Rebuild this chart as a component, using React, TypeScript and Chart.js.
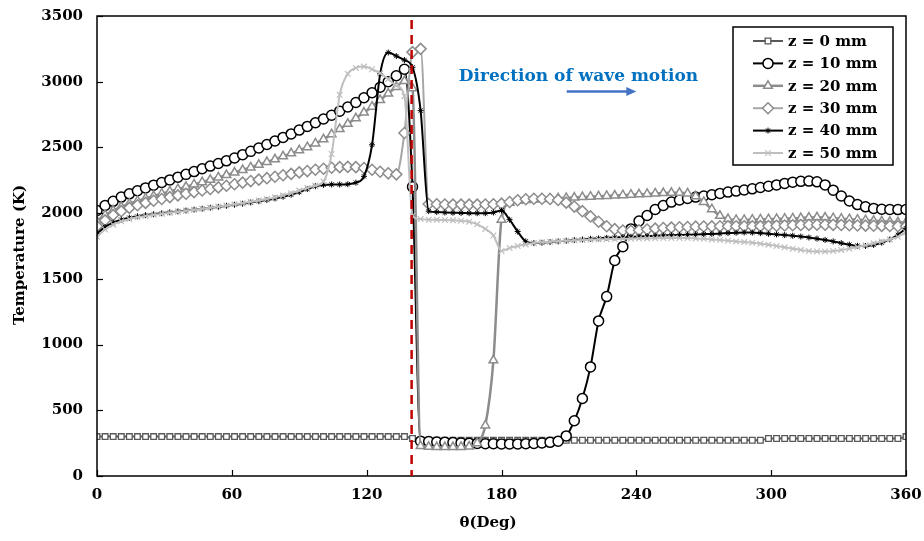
import React, { useEffect, useRef } from "react";
import { Chart, registerables } from "chart.js";

Chart.register(...registerables);

// Angle (deg) of each sample
const THETA = [
  0, 3.6, 7.2, 10.8, 14.4, 18, 21.6, 25.2, 28.8, 32.4,
  36, 39.6, 43.2, 46.8, 50.4, 54, 57.6, 61.2, 64.8, 68.4,
  72, 75.6, 79.2, 82.8, 86.4, 90, 93.6, 97.2, 100.8, 104.4,
  108, 111.6, 115.2, 118.8, 122.4, 126, 129.6, 133.2, 136.8, 140.4,
  144, 147.6, 151.2, 154.8, 158.4, 162, 165.6, 169.2, 172.8, 176.4,
  180, 183.6, 187.2, 190.8, 194.4, 198, 201.6, 205.2, 208.8, 212.4,
  216, 219.6, 223.2, 226.8, 230.4, 234, 237.6, 241.2, 244.8, 248.4,
  252, 255.6, 259.2, 262.8, 266.4, 270, 273.6, 277.2, 280.8, 284.4,
  288, 291.6, 295.2, 298.8, 302.4, 306, 309.6, 313.2, 316.8, 320.4,
  324, 327.6, 331.2, 334.8, 338.4, 342, 345.6, 349.2, 352.8, 356.4, 360,
];

const T_Z0 = [
  300, 300, 300, 300, 300, 300, 300, 300, 300, 300,
  300, 300, 300, 300, 300, 300, 300, 300, 300, 300,
  300, 300, 300, 300, 300, 300, 300, 300, 300, 300,
  300, 300, 300, 300, 300, 300, 300, 300, 300, 285,
  272, 272, 272, 272, 272, 272, 272, 272, 272, 272,
  272, 272, 272, 272, 272, 272, 272, 272, 272, 272,
  272, 272, 272, 272, 272, 272, 272, 272, 272, 272,
  272, 272, 272, 272, 272, 272, 272, 272, 272, 272,
  272, 272, 272, 285, 285, 285, 285, 285, 285, 285,
  285, 285, 285, 285, 285, 285, 285, 285, 285, 285, 300,
];

const T_Z10 = [
  2020, 2058, 2090, 2122, 2147, 2170, 2192, 2213, 2233, 2253,
  2274, 2295, 2316, 2338, 2358, 2378, 2398, 2420, 2445, 2470,
  2496, 2522, 2549, 2576, 2603, 2632, 2660, 2688, 2716, 2745,
  2776, 2808, 2842, 2878, 2916, 2958, 3000, 3045, 3095, 2200,
  265, 262, 258, 256, 254, 252, 250, 248, 246, 245,
  244, 244, 244, 245, 248, 252, 256, 265, 305, 420,
  590, 830, 1180, 1365, 1640, 1745, 1880, 1940, 1982, 2028,
  2058, 2084, 2100, 2112, 2122, 2130, 2140, 2150, 2160, 2168,
  2176, 2185, 2195, 2205, 2215, 2226, 2236, 2242, 2244, 2238,
  2215, 2175, 2130, 2092, 2065, 2048, 2036, 2030, 2028, 2027, 2028,
];

const T_Z20 = [
  1940, 1985, 2020, 2048, 2072, 2093, 2112, 2130, 2148, 2165,
  2182, 2200, 2218, 2236, 2254, 2272, 2290, 2309, 2328, 2348,
  2368, 2389, 2410, 2432, 2455, 2478, 2502, 2530, 2562, 2600,
  2640, 2680, 2722, 2765, 2810, 2860, 2910, 2960, 3005, 2950,
  228, 222, 220, 220, 220, 221, 224, 250, 385, 880,
  1950, 2080, 2095, 2100, 2104, 2107, 2110, 2113, 2116, 2119,
  2122, 2125, 2128, 2131, 2134, 2137, 2140, 2143, 2146, 2150,
  2153, 2155, 2155, 2150, 2128, 2085, 2030, 1980, 1955, 1948,
  1948, 1950, 1952, 1954, 1956, 1958, 1960, 1963, 1966, 1968,
  1966, 1962, 1958, 1954, 1950, 1946, 1942, 1938, 1934, 1930, 1928,
];

const T_Z30 = [
  1900, 1945, 1985, 2015, 2040, 2060, 2078, 2094, 2108, 2122,
  2135, 2148, 2160, 2172, 2184, 2196, 2208, 2220, 2232, 2244,
  2255, 2266, 2277, 2288, 2299, 2310, 2320, 2330, 2338, 2345,
  2350, 2352, 2350, 2343, 2330, 2315, 2303, 2295, 2610, 3225,
  3250, 2070, 2068, 2066, 2065, 2065, 2065, 2065, 2066, 2068,
  2072, 2085, 2098, 2106, 2110, 2110, 2108, 2100, 2080, 2050,
  2015, 1975, 1935, 1900, 1878, 1868, 1866, 1870, 1876, 1882,
  1887, 1890, 1893, 1895, 1897, 1898, 1899, 1900, 1900, 1900,
  1900, 1900, 1901, 1902, 1904, 1906, 1908, 1910, 1911, 1912,
  1912, 1911, 1910, 1908, 1906, 1905, 1904, 1903, 1902, 1900, 1900,
];

const T_Z40 = [
  1845, 1895, 1928, 1950, 1965, 1976, 1985, 1992, 1999, 2006,
  2013, 2020, 2027, 2034, 2041, 2048, 2056, 2064, 2072, 2081,
  2090, 2100, 2112, 2125, 2140, 2160, 2183, 2205, 2215, 2218,
  2218, 2220, 2232, 2280, 2520, 3060, 3222, 3195, 3165, 3110,
  2780, 2015, 2008, 2005, 2003, 2002, 2000, 2000, 2000, 2005,
  2020, 1950, 1860, 1785, 1772, 1775, 1780, 1785, 1790, 1795,
  1800, 1805, 1808, 1812, 1815, 1818, 1820, 1822, 1825, 1828,
  1830, 1832, 1834, 1836, 1838, 1840, 1842, 1845, 1848, 1851,
  1853, 1852, 1848, 1843, 1838, 1833, 1828, 1822, 1815, 1806,
  1796, 1785, 1772, 1760, 1752, 1750, 1758, 1775, 1800, 1835, 1885,
];

const T_Z50 = [
  1820, 1875, 1912, 1938, 1955, 1968, 1978, 1987, 1995, 2003,
  2010, 2018, 2026, 2034, 2042, 2050, 2058, 2067, 2076, 2086,
  2096, 2107, 2120, 2135, 2152, 2172, 2192, 2210, 2240, 2450,
  2900, 3060, 3105, 3115, 3095, 3065, 3020, 2970, 2890, 1980,
  1955, 1950, 1950, 1948, 1945, 1942, 1935, 1915, 1880, 1830,
  1712, 1735, 1750, 1762, 1772, 1778, 1783, 1787, 1790, 1793,
  1796, 1798, 1800, 1802, 1803, 1805, 1806, 1807, 1808, 1809,
  1810, 1810, 1810, 1810, 1808, 1805, 1800, 1795, 1790, 1785,
  1780, 1775, 1768, 1760, 1750, 1740, 1730, 1720, 1712, 1708,
  1708, 1712, 1720, 1730, 1742, 1755, 1770, 1785, 1800, 1820, 1855,
];

const SERIES_LABELS = ["z = 0 mm", "z = 10 mm", "z = 20 mm", "z = 30 mm", "z = 40 mm", "z = 50 mm"];
const SERIES_VALUES = [T_Z0, T_Z10, T_Z20, T_Z30, T_Z40, T_Z50];

const X_MIN = 0;
const X_MAX = 360;
const X_STEP = 60;
const Y_MIN = 0;
const Y_MAX = 3500;
const Y_STEP = 500;
const WAVE_FRONT_DEG = 140;
const ANNOTATION_TEXT = "Direction of wave motion";
const X_TITLE = "θ(Deg)";
const Y_TITLE = "Temperature (K)";

const FONT = "'DejaVu Serif', serif";

type Style = {
  line: string;
  lineWidth: number;
  marker: string;
  radius: number;
  markerBorder: string;
  markerFill: string;
  markerWidth: number;
};

const STYLES: Style[] = [
  { line: "#595959", lineWidth: 2, marker: "rect", radius: 4, markerBorder: "#595959", markerFill: "#ffffff", markerWidth: 1.3 },
  { line: "#000000", lineWidth: 2, marker: "circle", radius: 5, markerBorder: "#000000", markerFill: "#ffffff", markerWidth: 1.5 },
  { line: "#8c8c8c", lineWidth: 2.5, marker: "triangle", radius: 5, markerBorder: "#8c8c8c", markerFill: "#ffffff", markerWidth: 1.5 },
  { line: "#a6a6a6", lineWidth: 2, marker: "rectRot", radius: 5.5, markerBorder: "#8c8c8c", markerFill: "#ffffff", markerWidth: 1.5 },
  { line: "#000000", lineWidth: 2, marker: "star", radius: 3, markerBorder: "#000000", markerFill: "#000000", markerWidth: 1 },
  { line: "#bfbfbf", lineWidth: 2, marker: "crossRot", radius: 4, markerBorder: "#bfbfbf", markerFill: "#bfbfbf", markerWidth: 1.2 },
];

function drawMarker(ctx: CanvasRenderingContext2D, st: Style, x: number, y: number) {
  const r = st.radius;
  ctx.save();
  ctx.lineWidth = st.markerWidth;
  ctx.strokeStyle = st.markerBorder;
  ctx.fillStyle = st.markerFill;
  ctx.beginPath();
  if (st.marker === "rect") {
    const s = r * Math.SQRT1_2 * 2;
    ctx.rect(x - s / 2, y - s / 2, s, s);
    ctx.fill();
    ctx.stroke();
  } else if (st.marker === "circle") {
    ctx.arc(x, y, r, 0, Math.PI * 2);
    ctx.fill();
    ctx.stroke();
  } else if (st.marker === "triangle") {
    ctx.moveTo(x, y - r);
    ctx.lineTo(x + r * 0.866, y + r * 0.5);
    ctx.lineTo(x - r * 0.866, y + r * 0.5);
    ctx.closePath();
    ctx.fill();
    ctx.stroke();
  } else if (st.marker === "rectRot") {
    ctx.moveTo(x, y - r);
    ctx.lineTo(x + r, y);
    ctx.lineTo(x, y + r);
    ctx.lineTo(x - r, y);
    ctx.closePath();
    ctx.fill();
    ctx.stroke();
  } else if (st.marker === "star") {
    for (let k = 0; k < 4; k++) {
      const a = (k * Math.PI) / 4;
      ctx.moveTo(x - Math.cos(a) * r, y - Math.sin(a) * r);
      ctx.lineTo(x + Math.cos(a) * r, y + Math.sin(a) * r);
    }
    ctx.stroke();
  } else if (st.marker === "crossRot") {
    ctx.moveTo(x - r * 0.7, y - r * 0.7);
    ctx.lineTo(x + r * 0.7, y + r * 0.7);
    ctx.moveTo(x + r * 0.7, y - r * 0.7);
    ctx.lineTo(x - r * 0.7, y + r * 0.7);
    ctx.stroke();
  }
  ctx.restore();
}

const overlayPlugin = {
  id: "overlay",
  afterDraw(chart: any) {
    const { ctx, chartArea: ca, scales } = chart;
    const xs = scales.x;
    const ys = scales.y;
    ctx.save();

    // inner tick marks
    ctx.strokeStyle = "#000";
    ctx.lineWidth = 1.2;
    for (let v = Y_MIN; v <= Y_MAX; v += Y_STEP) {
      const py = Math.round(ys.getPixelForValue(v)) + 0.5;
      ctx.beginPath();
      ctx.moveTo(ca.left, py);
      ctx.lineTo(ca.left + 6, py);
      ctx.stroke();
    }
    for (let v = X_MIN; v <= X_MAX; v += X_STEP) {
      const px = Math.round(xs.getPixelForValue(v)) + 0.5;
      ctx.beginPath();
      ctx.moveTo(px, ca.bottom);
      ctx.lineTo(px, ca.bottom - 6);
      ctx.stroke();
    }

    // plot frame
    ctx.lineWidth = 1.5;
    ctx.strokeStyle = "#000";
    ctx.strokeRect(ca.left, ca.top, ca.right - ca.left, ca.bottom - ca.top);

    // wave front dashed line
    const wx = xs.getPixelForValue(WAVE_FRONT_DEG);
    ctx.strokeStyle = "#c00000";
    ctx.lineWidth = 2.5;
    ctx.setLineDash([9, 6]);
    ctx.beginPath();
    ctx.moveTo(wx, ca.top + 4);
    ctx.lineTo(wx, ca.bottom);
    ctx.stroke();
    ctx.setLineDash([]);

    // annotation
    ctx.fillStyle = "#0070c0";
    ctx.font = `bold 17px ${FONT}`;
    ctx.textAlign = "left";
    ctx.textBaseline = "middle";
    ctx.fillText(ANNOTATION_TEXT, xs.getPixelForValue(161), ys.getPixelForValue(3040));
    const ay = ys.getPixelForValue(2925);
    const ax0 = xs.getPixelForValue(209);
    const ax1 = xs.getPixelForValue(240);
    ctx.strokeStyle = "#4472c4";
    ctx.fillStyle = "#4472c4";
    ctx.lineWidth = 2.5;
    ctx.beginPath();
    ctx.moveTo(ax0, ay);
    ctx.lineTo(ax1 - 8, ay);
    ctx.stroke();
    ctx.beginPath();
    ctx.moveTo(ax1, ay);
    ctx.lineTo(ax1 - 10, ay - 4.5);
    ctx.lineTo(ax1 - 10, ay + 4.5);
    ctx.closePath();
    ctx.fill();

    // legend
    const lx = 733, ly = 27, lw = 160, lh = 138;
    ctx.fillStyle = "#fff";
    ctx.fillRect(lx, ly, lw, lh);
    ctx.strokeStyle = "#000";
    ctx.lineWidth = 1.5;
    ctx.strokeRect(lx, ly, lw, lh);
    ctx.font = `bold 15px ${FONT}`;
    ctx.textBaseline = "middle";
    ctx.textAlign = "left";
    SERIES_LABELS.forEach((lab, i) => {
      const st = STYLES[i];
      const ry = ly + 14 + i * 22.4;
      ctx.strokeStyle = st.line;
      ctx.lineWidth = st.lineWidth;
      ctx.beginPath();
      ctx.moveTo(lx + 20, ry);
      ctx.lineTo(lx + 50, ry);
      ctx.stroke();
      drawMarker(ctx, st, lx + 35, ry);
      ctx.fillStyle = "#000";
      ctx.fillText(lab, lx + 55, ry + 1);
    });

    // axis titles
    ctx.fillStyle = "#000";
    ctx.font = `bold 15px ${FONT}`;
    ctx.textAlign = "center";
    ctx.textBaseline = "middle";
    ctx.fillText(X_TITLE, 488, 523);
    ctx.save();
    ctx.translate(20, 255);
    ctx.rotate(-Math.PI / 2);
    ctx.fillText(Y_TITLE, 0, 0);
    ctx.restore();

    ctx.restore();
  },
};

export default function App() {
  const ref = useRef<HTMLCanvasElement | null>(null);

  useEffect(() => {
    if (!ref.current) return;
    const datasets = SERIES_VALUES.map((vals, i) => {
      const st = STYLES[i];
      return {
        label: SERIES_LABELS[i],
        data: vals.map((v, k) => ({ x: THETA[k], y: v })),
        borderColor: st.line,
        borderWidth: st.lineWidth,
        pointStyle: st.marker,
        pointRadius: st.radius,
        pointBorderColor: st.markerBorder,
        pointBackgroundColor: st.markerFill,
        pointBorderWidth: st.markerWidth,
        cubicInterpolationMode: "monotone" as const,
        fill: false,
        order: 6 - i,
      };
    });

    const tickFont = { family: FONT, size: 15, weight: "bold" as const };

    const chart = new Chart(ref.current, {
      type: "line",
      data: { datasets },
      options: {
        responsive: false,
        animation: false,
        events: [],
        layout: { padding: { left: 0, right: 18, top: 16, bottom: 0 } },
        plugins: { legend: { display: false }, tooltip: { enabled: false } },
        scales: {
          x: {
            type: "linear",
            min: X_MIN,
            max: X_MAX,
            ticks: { stepSize: X_STEP, color: "#000", padding: 10, font: tickFont, callback: (v: any) => String(v) },
            grid: { display: false, drawTicks: false },
            border: { display: false },
            afterFit: (s: any) => {
              s.height = 65;
              s.paddingLeft = 0;
              s.paddingRight = 0;
            },
          },
          y: {
            type: "linear",
            min: Y_MIN,
            max: Y_MAX,
            ticks: { stepSize: Y_STEP, color: "#000", padding: 14, font: tickFont, callback: (v: any) => String(v) },
            grid: { display: false, drawTicks: false },
            border: { display: false },
            afterFit: (s: any) => {
              s.width = 97;
              s.paddingTop = 0;
              s.paddingBottom = 0;
            },
          },
        },
      },
      plugins: [overlayPlugin],
    });
    return () => chart.destroy();
  }, []);

  return (
    <div style={{ position: "fixed", left: 0, top: 0, width: 924, height: 541, background: "#fff" }}>
      <canvas ref={ref} width={924} height={541} style={{ display: "block", width: 924, height: 541 }} />
    </div>
  );
}
